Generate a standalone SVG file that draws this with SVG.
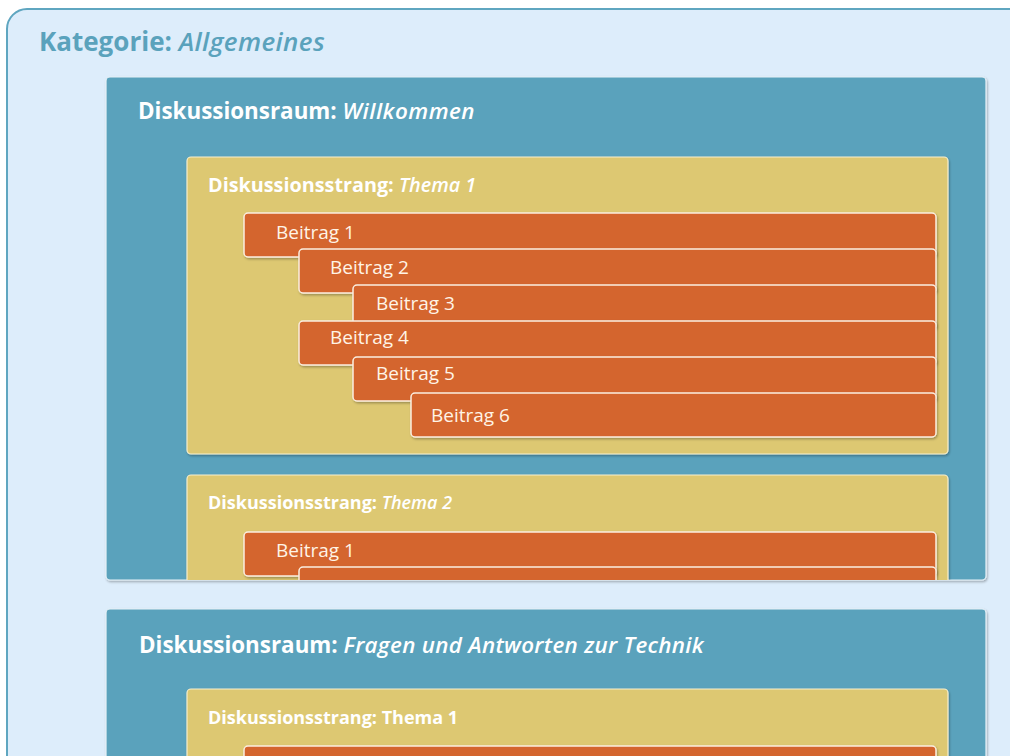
<svg xmlns="http://www.w3.org/2000/svg" width="1010" height="756" viewBox="0 0 1010 756">
<defs>
<style>
.cat{fill:#ddedfb;stroke:#5fa6c0;stroke-width:2}
.raum{fill:#5aa2bc;stroke:#e8f2f8;stroke-width:1.2}
.strang{fill:#ddc872;stroke:#f6efcf;stroke-width:1.2}
.post{fill:#d4652d;stroke:#fbeee0;stroke-width:1.5}
.t{font-family:"Open Sans",Lato,sans-serif}
.tcat{font-size:26px;font-weight:bold;fill:#5aa2bc}
.traum{font-size:22.4px;font-weight:bold;fill:#ffffff}
.tstr1{font-size:19.8px;font-weight:bold;fill:#ffffff}
.tstr{font-size:18px;font-weight:bold;fill:#ffffff}
.tpost{font-size:19px;fill:#fff4e6}
.i{font-style:italic;font-weight:600}
</style>
<filter id="sh" x="-5%" y="-5%" width="110%" height="115%">
<feDropShadow dx="1" dy="1.5" stdDeviation="1" flood-color="#000" flood-opacity="0.3"/>
</filter>
<clipPath id="c1"><rect x="106" y="77" width="880" height="503" rx="4"/></clipPath>
</defs>

<g id="kategorie">
<rect class="cat" x="7" y="9" width="1030" height="790" rx="20"/>
<text class="t tcat" x="39" y="51">Kategorie: <tspan class="i" letter-spacing="0.4">Allgemeines</tspan></text>
</g>

<g id="raum1">
<rect class="raum" x="106" y="77" width="880" height="503" rx="4" filter="url(#sh)"/>
<text class="t traum" x="138" y="119">Diskussionsraum: <tspan class="i" letter-spacing="0.5">Willkommen</tspan></text>
<g clip-path="url(#c1)">
<g id="strang1">
<rect class="strang" x="187" y="157" width="761" height="297" rx="4" filter="url(#sh)"/>
<text class="t tstr1" x="208" y="192">Diskussionsstrang: <tspan class="i">Thema 1</tspan></text>
<g id="s1b1"><rect class="post" x="244" y="213" width="692" height="44" rx="4" filter="url(#sh)"/><text class="t tpost" x="276" y="239">Beitrag 1</text></g>
<g id="s1b2"><rect class="post" x="299" y="249" width="637" height="44" rx="4" filter="url(#sh)"/><text class="t tpost" x="330" y="274">Beitrag 2</text></g>
<g id="s1b3"><rect class="post" x="353" y="285" width="583" height="44" rx="4" filter="url(#sh)"/><text class="t tpost" x="376" y="310">Beitrag 3</text></g>
<g id="s1b4"><rect class="post" x="299" y="321" width="637" height="44" rx="4" filter="url(#sh)"/><text class="t tpost" x="330" y="344">Beitrag 4</text></g>
<g id="s1b5"><rect class="post" x="353" y="357" width="583" height="44" rx="4" filter="url(#sh)"/><text class="t tpost" x="376" y="380">Beitrag 5</text></g>
<g id="s1b6"><rect class="post" x="411" y="393" width="525" height="44" rx="4" filter="url(#sh)"/><text class="t tpost" x="431" y="422">Beitrag 6</text></g>
</g>
<g id="strang2">
<rect class="strang" x="187" y="475" width="761" height="200" rx="4" filter="url(#sh)"/>
<text class="t tstr" x="208" y="509">Diskussionsstrang: <tspan class="i">Thema 2</tspan></text>
<g id="s2b1"><rect class="post" x="244" y="532" width="692" height="44" rx="4" filter="url(#sh)"/><text class="t tpost" x="276" y="557">Beitrag 1</text></g>
<g id="s2b2"><rect class="post" x="299" y="567" width="637" height="44" rx="4" filter="url(#sh)"/></g>
</g>
</g>
</g>

<g id="raum2">
<rect class="raum" x="106" y="609" width="880" height="200" rx="4" filter="url(#sh)"/>
<text class="t traum" x="139" y="653">Diskussionsraum: <tspan class="i" letter-spacing="0.3">Fragen und Antworten zur Technik</tspan></text>
<g id="strang3">
<rect class="strang" x="187" y="689" width="761" height="120" rx="4" filter="url(#sh)"/>
<text class="t tstr" x="208" y="724">Diskussionsstrang: Thema 1</text>
<g id="s3b1"><rect class="post" x="244" y="746" width="692" height="44" rx="4" filter="url(#sh)"/></g>
</g>
</g>

<g id="connectors"></g>
</svg>
